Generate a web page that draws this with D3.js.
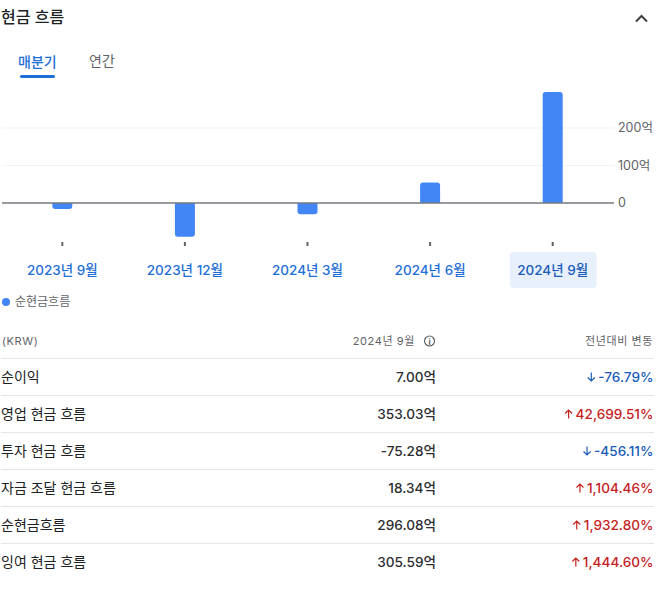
<!DOCTYPE html>
<html lang="ko">
<head>
<meta charset="utf-8">
<script src="https://cdn.jsdelivr.net/npm/d3@7"></script>
<style>
  html, body { margin: 0; background: #fff; }
  svg { display: block; }
  text { font-family: Inter, "Noto Sans CJK KR", sans-serif; }
</style>
</head>
<body>
<svg id="chart" width="664" height="589"></svg>
<script>
// Chart data
const quarters = ["2023년 9월", "2023년 12월", "2024년 3월", "2024년 6월", "2024년 9월"]
const netCash = [-16, -90, -30, 55, 296.08]
const yTicks = [0, 100, 200]
const rowNames = ["순이익", "영업 현금 흐름", "투자 현금 흐름", "자금 조달 현금 흐름", "순현금흐름", "잉여 현금 흐름"]
const rowValues = ["7.00억", "353.03억", "-75.28억", "18.34억", "296.08억", "305.59억"]
const rowChanges = ["-76.79%", "42,699.51%", "-456.11%", "1,104.46%", "1,932.80%", "1,444.60%"]
const rowUp = [false, true, false, true, true, true]

const svg = d3.select("#chart")
const blue = "#4285f4", linkBlue = "#1f6fd8", grey = "#5f6368", dark = "#202124"
const upColor = "#c5221f", downColor = "#1a5cb8"

// Header and tabs
svg.append("text").attr("x", 1).attr("y", 23).attr("font-size", 16).attr("font-weight", 500).attr("fill", dark).text("현금 흐름")
svg.append("path").attr("d", "M636,21.5l5.5,-5.5l5.5,5.5").attr("fill", "none").attr("stroke", "#3c4043").attr("stroke-width", 2)
svg.append("text").attr("x", 18).attr("y", 67).attr("font-size", 14).attr("font-weight", 500).attr("fill", linkBlue).text("매분기")
svg.append("text").attr("x", 89).attr("y", 66).attr("font-size", 14).attr("fill", grey).text("연간")
svg.append("rect").attr("x", 20).attr("y", 75).attr("width", 35).attr("height", 3).attr("rx", 1.5).attr("fill", linkBlue)

// Scales
const x = d3.scaleBand().domain(quarters).range([1, 614])
const y = d3.scaleLinear().domain([0, 200]).range([203, 128])

// Gridlines and value axis
svg.append("g").selectAll("line").data(yTicks.filter(d => d != 0)).join("line")
  .attr("x1", 2).attr("x2", 615)
  .attr("y1", d => y(d)).attr("y2", d => y(d))
  .attr("stroke", "#f1f3f4")
svg.append("g").selectAll("text").data(yTicks).join("text")
  .attr("x", 618).attr("y", d => y(d) + 4)
  .attr("font-size", 12.5).attr("fill", grey)
  .text(d => d == 0 ? "0" : d + "억")

// Bars, rounded only at the end away from the zero line
const barPath = d => {
  const bw = 20, r = 3
  const x0 = x(d.q) + x.bandwidth() / 2 - bw / 2, x1 = x0 + bw
  const y0 = y(0), y1 = y(d.v)
  const s = d.v > 0 ? 1 : -1
  return `M${x0},${y0}V${y1 + s * r}Q${x0},${y1} ${x0 + r},${y1}H${x1 - r}Q${x1},${y1} ${x1},${y1 + s * r}V${y0}Z`
}
svg.append("g").selectAll("path").data(quarters.map((q, i) => ({q, v: netCash[i]}))).join("path")
  .attr("d", barPath).attr("fill", blue)

// Zero line
svg.append("line").attr("x1", 2).attr("x2", 614).attr("y1", y(0)).attr("y2", y(0)).attr("stroke", "#757a80").attr("stroke-width", 1.5)

// Selected quarter highlight
const last = quarters[quarters.length - 1]
svg.append("rect").attr("x", x(last) + x.bandwidth() / 2 - 43).attr("y", 252).attr("width", 87).attr("height", 36).attr("rx", 4).attr("fill", "#e8f0fe")

// Category ticks and labels
svg.append("g").selectAll("line").data(quarters).join("line")
  .attr("x1", d => x(d) + x.bandwidth() / 2).attr("x2", d => x(d) + x.bandwidth() / 2)
  .attr("y1", 242).attr("y2", 246)
  .attr("stroke", "#5f6368").attr("stroke-width", 2)
svg.append("g").selectAll("text").data(quarters).join("text")
  .attr("x", d => x(d) + x.bandwidth() / 2).attr("y", 275)
  .attr("text-anchor", "middle").attr("font-size", 13.5).attr("font-weight", 500)
  .attr("fill", d => d == last ? "#1a5cb8" : linkBlue)
  .text(d => d)

// Legend
svg.append("circle").attr("cx", 6).attr("cy", 302).attr("r", 4).attr("fill", blue)
svg.append("text").attr("x", 15).attr("y", 306).attr("font-size", 12).attr("fill", grey).text("순현금흐름")

// Table header
svg.append("text").attr("x", 2).attr("y", 345).attr("font-size", 11).attr("letter-spacing", 0.6).attr("fill", grey).text("(KRW)")
svg.append("text").attr("x", 415).attr("y", 345).attr("text-anchor", "end").attr("font-size", 11).attr("letter-spacing", 0.6).attr("fill", grey).text("2024년 9월")
svg.append("circle").attr("cx", 429.5).attr("cy", 341).attr("r", 5).attr("fill", "none").attr("stroke", grey).attr("stroke-width", 1.2)
svg.append("text").attr("x", 429.5).attr("y", 344.5).attr("text-anchor", "middle").attr("font-size", 8).attr("font-weight", 700).attr("fill", grey).text("i")
svg.append("text").attr("x", 653).attr("y", 345).attr("text-anchor", "end").attr("font-size", 11).attr("letter-spacing", 0.6).attr("fill", grey).text("전년대비 변동")

// Table rows
const rowY = d3.scaleBand().domain(rowNames).range([358.5, 580.5])
const rows = svg.append("g").selectAll("g").data(rowNames).join("g")
  .attr("transform", d => `translate(0,${rowY(d)})`)
rows.append("line").attr("x1", 1).attr("x2", 654).attr("y1", 0).attr("y2", 0).attr("stroke", "#e3e5e7")
rows.append("text").attr("x", 1).attr("y", 23).attr("font-size", 14).attr("fill", dark).text(d => d)
rows.append("text").attr("x", 436).attr("y", 23.5).attr("text-anchor", "end").attr("font-size", 13.6).attr("font-weight", 500).attr("fill", "#2b2d30")
  .text((d, i) => rowValues[i])
rows.append("text").attr("x", 653.5).attr("y", 23.5).attr("text-anchor", "end").attr("font-size", 13.6).attr("font-weight", 500)
  .attr("fill", (d, i) => rowUp[i] ? upColor : downColor)
  .each(function (d, i) {
    d3.select(this).text(rowChanges[i])
    // arrow sits just left of the percentage text
    const left = 653.5 - this.getComputedTextLength() - 7
    const dir = rowUp[i] ? -1 : 1
    const cy = 18.5
    d3.select(this.parentNode).append("path")
      .attr("d", `M${left},${cy - dir * 4.5}V${cy + dir * 4}M${left - 3.5},${cy + dir * 0.5}L${left},${cy + dir * 4}L${left + 3.5},${cy + dir * 0.5}`)
      .attr("fill", "none").attr("stroke", rowUp[i] ? upColor : downColor).attr("stroke-width", 1.2)
  })
</script>
</body>
</html>
